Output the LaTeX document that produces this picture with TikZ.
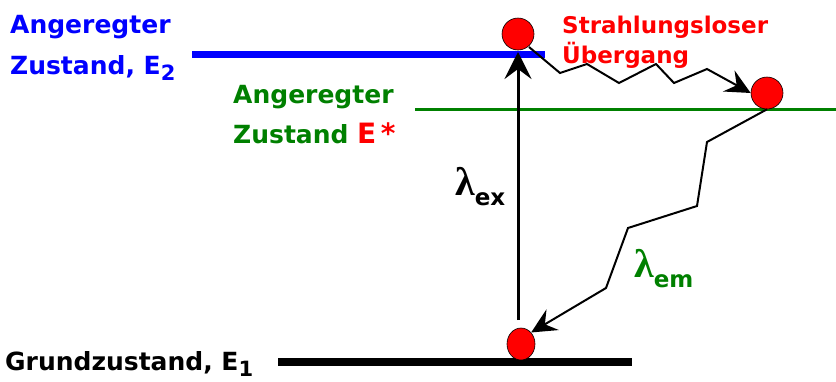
\documentclass[tikz,border=0pt]{standalone}
\usepackage{fontspec}
\setmainfont{DejaVu Sans}
\newfontfamily\lamfont{Liberation Serif}
\usetikzlibrary{arrows.meta,shapes.geometric}
\definecolor{eblue}{RGB}{0,0,255}
\definecolor{egreen}{RGB}{0,128,0}
\definecolor{ered}{RGB}{255,0,0}
\newcommand{\lowsub}[2]{\raisebox{-6.5pt}{\fontsize{#1}{#1}\selectfont #2}}
\begin{document}
\begin{tikzpicture}[x=1pt,y=-1pt,
  lbl/.style={font=\fontsize{25}{30}\selectfont\bfseries, anchor=base west, inner sep=0pt},
  glbl/.style={font=\fontsize{25}{30}\selectfont\bfseries, anchor=base west, inner sep=0pt},
  rlbl/.style={font=\fontsize{23}{26}\selectfont\bfseries, anchor=base west, inner sep=0pt, text=ered},
  lam/.style={anchor=base west, inner sep=0pt},
  ball/.style={circle, draw=black, line width=0.6pt, fill=ered, minimum size=32pt, inner sep=0pt},
  gball/.style={ellipse, draw=black, line width=0.6pt, fill=ered, minimum width=28pt, minimum height=32pt, inner sep=0pt},
  bigtip/.style={-{Stealth[length=27pt,width=27pt,inset=10pt]}},
  zztip/.style={-{Stealth[length=25pt,width=24pt,inset=9pt]}},
  zz/.style={line width=2pt, line join=miter},
]
\useasboundingbox (0,0) rectangle (836,381);
% energy levels
\draw[eblue, line width=7.5pt] (192,54.5) -- (545,54.5);
\draw[egreen, line width=3.5pt] (415,109.5) -- (836,109.5);
\draw[black, line width=8.5pt] (278,362) -- (632,362);
% balls
\node[ball] (t) at (518,34) {};
\node[ball] (r) at (767,93) {};
\node[gball] (g) at (521,344) {};
% excitation arrow
\coordinate (exs) at (518,320);
\coordinate (exe) at (518,52);
\draw[bigtip, line width=3pt] (exs) -- (exe);
% radiationless transition
\draw[zz, zztip] (529,47) -- (560,73) -- (587,64) -- (619,83) -- (656,64) -- (674,83) -- (707,69) -- (r.west);
% emission
\draw[zz, zztip] (r.south) -- (707,142) -- (697,206) -- (628,228) -- (606,288) -- (g.north east);
% labels
\node[lbl, text=eblue] (e2a) at (10,33) {Angeregter};
\node[lbl, text=eblue] (e2b) at (10,74) {Zustand, E\lowsub{21}{2}};
\node[lbl, text=egreen] (esa) at (233,103) {Angeregter};
\node[lbl, text=egreen] (esb) at (233,143) {Zustand {\fontsize{28}{30}\selectfont\color{ered}E\,*}};
\node[glbl, text=black] (e1) at (5,370) {Grundzustand, E\lowsub{21}{1}};
\node[rlbl] (sl1) at (562,33) {Strahlungsloser};
\node[rlbl] (sl2) at (562,63) {Übergang};
\node[lam, text=black] (lex) at (455,195) {{\lamfont\fontsize{40}{40}\selectfont\bfseries λ}{\fontsize{23}{23}\selectfont\bfseries\raisebox{-10pt}{ex}}};
\node[lam, text=egreen] (lem) at (634,277) {{\lamfont\fontsize{40}{40}\selectfont\bfseries λ}{\fontsize{23}{23}\selectfont\bfseries\raisebox{-10pt}{em}}};
\end{tikzpicture}
\end{document}
